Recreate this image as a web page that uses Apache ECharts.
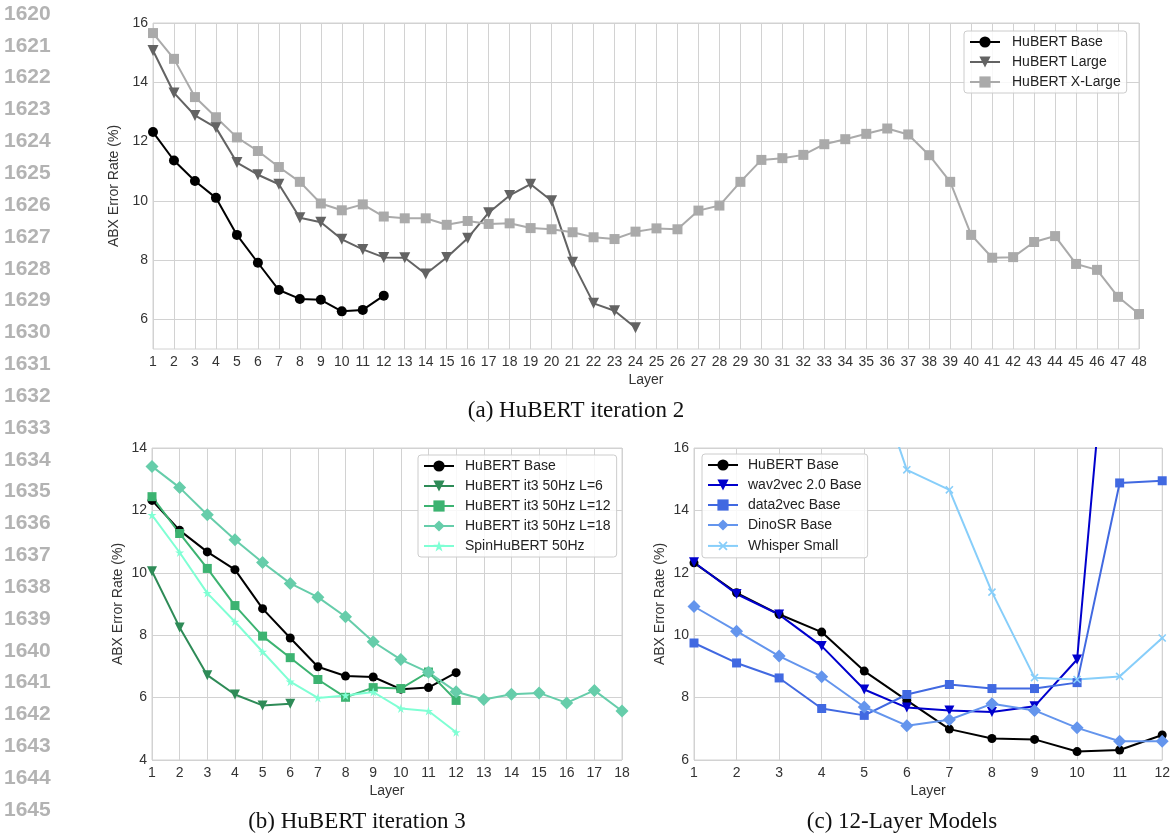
<!DOCTYPE html>
<html><head><meta charset="utf-8">
<script src="https://cdn.jsdelivr.net/npm/echarts@6/dist/echarts.min.js"></script>
<style>html,body{margin:0;padding:0;background:#fff}#c{width:1173px;height:834px}</style>
</head><body><div id="c"></div>
<script>
// ---------- data ----------
const layers48 = [1,2,3,4,5,6,7,8,9,10,11,12,13,14,15,16,17,18,19,20,21,22,23,24,25,26,27,28,29,30,31,32,33,34,35,36,37,38,39,40,41,42,43,44,45,46,47,48];
const hubertBase = [12.32, 11.36, 10.67, 10.10, 8.85, 7.91, 6.99, 6.69, 6.66, 6.27, 6.32, 6.80];
const hubertLarge = [15.07, 13.64, 12.88, 12.47, 11.29, 10.88, 10.56, 9.43, 9.28, 8.70, 8.36, 8.09, 8.08, 7.53, 8.09, 8.74, 9.60, 10.18, 10.56, 10.00, 7.93, 6.54, 6.29, 5.72];
const hubertXLarge = [15.66, 14.79, 13.50, 12.82, 12.14, 11.68, 11.14, 10.64, 9.91, 9.68, 9.88, 9.47, 9.41, 9.41, 9.19, 9.32, 9.22, 9.24, 9.08, 9.04, 8.94, 8.77, 8.71, 8.96, 9.07, 9.04, 9.67, 9.84, 10.64, 11.38, 11.44, 11.55, 11.91, 12.08, 12.26, 12.44, 12.24, 11.54, 10.64, 8.85, 8.08, 8.10, 8.61, 8.81, 7.87, 7.67, 6.76, 6.18];

const it3L6 = [10.05, 8.25, 6.72, 6.10, 5.75, 5.80];
const it3L12 = [12.44, 11.26, 10.14, 8.95, 7.97, 7.28, 6.58, 6.01, 6.32, 6.29, 6.82, 5.91];
const it3L18 = [13.41, 12.73, 11.86, 11.06, 10.33, 9.66, 9.22, 8.59, 7.79, 7.22, 6.81, 6.19, 5.94, 6.11, 6.15, 5.83, 6.23, 5.57];
const spinHubert = [11.85, 10.65, 9.35, 8.43, 7.47, 6.51, 5.99, 6.07, 6.18, 5.65, 5.57, 4.89];

const wav2vec = [12.34, 11.32, 10.66, 9.65, 8.26, 7.68, 7.59, 7.54, 7.72, 9.22, 24.5, null];
const data2vec = [9.75, 9.11, 8.63, 7.65, 7.43, 8.10, 8.42, 8.29, 8.29, 8.48, 14.88, 14.95];
const dinoSR = [10.92, 10.13, 9.33, 8.67, 7.70, 7.10, 7.29, 7.80, 7.59, 7.03, 6.60, 6.60];
const whisper = [null, null, null, null, 19.3, 15.30, 14.66, 11.38, 8.64, 8.58, 8.68, 9.91];

const lineNumbers = [1620,1621,1622,1623,1624,1625,1626,1627,1628,1629,1630,1631,1632,1633,1634,1635,1636,1637,1638,1639,1640,1641,1642,1643,1644,1645];
const captions = ['(a) HuBERT iteration 2', '(b) HuBERT iteration 3', '(c) 12-Layer Models'];
const xName = 'Layer';
const yName = 'ABX Error Rate (%)';

// ---------- helpers ----------
const SANS = '"Liberation Sans", Arial, Helvetica, sans-serif';
const SERIF = '"Liberation Serif", "Times New Roman", serif';
const GRID_C = '#d2d2d2';
const pairs = arr => arr.map((v, i) => [i + 1, v]);
const xSymbol = 'path://M4.2,0H5.8V4.2H10V5.8H5.8V10H4.2V5.8H0V4.2H4.2Z';
const starSymbol = 'path://M5,0L6.2,3.6L10,3.6L6.9,5.8L8.1,9.5L5,7.2L1.9,9.5L3.1,5.8L0,3.6L3.8,3.6Z';

function xAx(gi, min, max) {
  return {
    type: 'value', gridIndex: gi, min: min, max: max, interval: 1,
    axisLine: {show: false}, axisTick: {show: false},
    axisLabel: {color: '#333', fontSize: 14, fontFamily: SANS, margin: 6},
    splitLine: {show: true, lineStyle: {color: GRID_C, width: 1}},
    name: xName, nameLocation: 'middle', nameGap: 24,
    nameTextStyle: {color: '#333', fontSize: 14, fontFamily: SANS}
  };
}
function yAx(gi, min, max, interval, splitColor, fmt) {
  return {
    type: 'value', gridIndex: gi, min: min, max: max, interval: interval,
    axisLine: {show: false}, axisTick: {show: false},
    axisLabel: {color: '#333', fontSize: 14, fontFamily: SANS, margin: 5, formatter: fmt},
    splitLine: {show: true, lineStyle: {color: splitColor, width: 1}},
    name: yName, nameLocation: 'middle', nameGap: 27,
    nameTextStyle: {color: '#333', fontSize: 14, fontFamily: SANS}
  };
}
function ser(name, gi, data, color, symbol, size, rotate, lw) {
  return {
    name: name, type: 'line', xAxisIndex: gi, yAxisIndex: gi,
    data: pairs(data), symbol: symbol, symbolSize: size, symbolRotate: rotate || 0,
    showSymbol: true, connectNulls: false, clip: true,
    lineStyle: {color: color, width: lw || 2},
    itemStyle: {color: color, borderWidth: 0, opacity: 1},
    emphasis: {disabled: true}, z: 3
  };
}
function legend(names, left, top, textPad) {
  return {
    data: names, orient: 'vertical', left: left, top: top, selectedMode: false,
    itemWidth: 30, itemHeight: 14, itemGap: 6,
    padding: [4, 6, 4, 5],
    backgroundColor: 'rgba(255,255,255,0.85)', borderColor: '#cccccc', borderWidth: 1, borderRadius: 3,
    textStyle: {color: '#222', fontSize: 14, fontFamily: SANS, padding: [0, 0, 0, textPad]}
  };
}

const chart = echarts.init(document.getElementById('c'), null, {renderer: 'canvas'});

const graphics = lineNumbers.map((n, i) => ({
  type: 'text', x: 4, y: 14 + i * 31.84,
  style: {text: String(n), fontSize: 21, fontWeight: 'bold', fontFamily: SANS, fill: '#b3b3b3', align: 'left', verticalAlign: 'middle'}
}));
graphics.push(
  {type: 'text', x: 576, y: 411, style: {text: captions[0], fontSize: 23, fontFamily: SERIF, fill: '#111', align: 'center', verticalAlign: 'middle'}},
  {type: 'text', x: 357, y: 822, style: {text: captions[1], fontSize: 23, fontFamily: SERIF, fill: '#111', align: 'center', verticalAlign: 'middle'}},
  {type: 'text', x: 902, y: 822, style: {text: captions[2], fontSize: 23, fontFamily: SERIF, fill: '#111', align: 'center', verticalAlign: 'middle'}}
);

const option = {
  animation: false,
  backgroundColor: '#fff',
  grid: [
    {left: 153, top: 23, width: 986, height: 326, show: true, borderColor: GRID_C, borderWidth: 1, containLabel: false},
    {left: 152, top: 448, width: 470, height: 312, show: true, borderColor: GRID_C, borderWidth: 1, containLabel: false},
    {left: 694, top: 448, width: 472, height: 312, show: true, borderColor: GRID_C, borderWidth: 1, containLabel: false}
  ],
  xAxis: [xAx(0, 1, 48), xAx(1, 1, 18), xAx(2, 1, 12)],
  yAxis: [
    yAx(0, 5, 16, 1, ['rgba(0,0,0,0)', GRID_C], v => (v % 2 === 0 ? String(v) : '')),
    yAx(1, 4, 14, 2, GRID_C),
    yAx(2, 6, 16, 2, GRID_C)
  ],
  legend: [
    legend(['HuBERT Base', 'HuBERT Large', 'HuBERT X-Large'], 964, 31, 7),
    legend(['HuBERT Base', 'HuBERT it3 50Hz L=6', 'HuBERT it3 50Hz L=12', 'HuBERT it3 50Hz L=18', 'SpinHuBERT 50Hz'], 418, 455, 6),
    legend(['HuBERT Base', 'wav2vec 2.0 Base', 'data2vec Base', 'DinoSR Base', 'Whisper Small'], 702, 454, 5)
  ],
  series: [
    ser('HuBERT Base', 0, hubertBase, '#000000', 'circle', 10),
    ser('HuBERT Large', 0, hubertLarge, '#636363', 'triangle', 11, 180),
    ser('HuBERT X-Large', 0, hubertXLarge, '#aaaaaa', 'rect', 10),

    ser('HuBERT Base', 1, hubertBase, '#000000', 'circle', 9),
    ser('HuBERT it3 50Hz L=6', 1, it3L6, '#2e8b57', 'triangle', 10, 180),
    ser('HuBERT it3 50Hz L=12', 1, it3L12, '#3cb371', 'rect', 9),
    ser('HuBERT it3 50Hz L=18', 1, it3L18, '#66cdaa', 'diamond', 13),
    ser('SpinHuBERT 50Hz', 1, spinHubert, '#7fffd4', starSymbol, 9),

    ser('HuBERT Base', 2, hubertBase, '#000000', 'circle', 9),
    ser('wav2vec 2.0 Base', 2, wav2vec, '#0000cd', 'triangle', 10, 180),
    ser('data2vec Base', 2, data2vec, '#4169e1', 'rect', 9),
    ser('DinoSR Base', 2, dinoSR, '#6495ed', 'diamond', 13),
    ser('Whisper Small', 2, whisper, '#87cefa', xSymbol, 10, 45)
  ],
  graphic: graphics
};
chart.setOption(option);
</script>
</body></html>
